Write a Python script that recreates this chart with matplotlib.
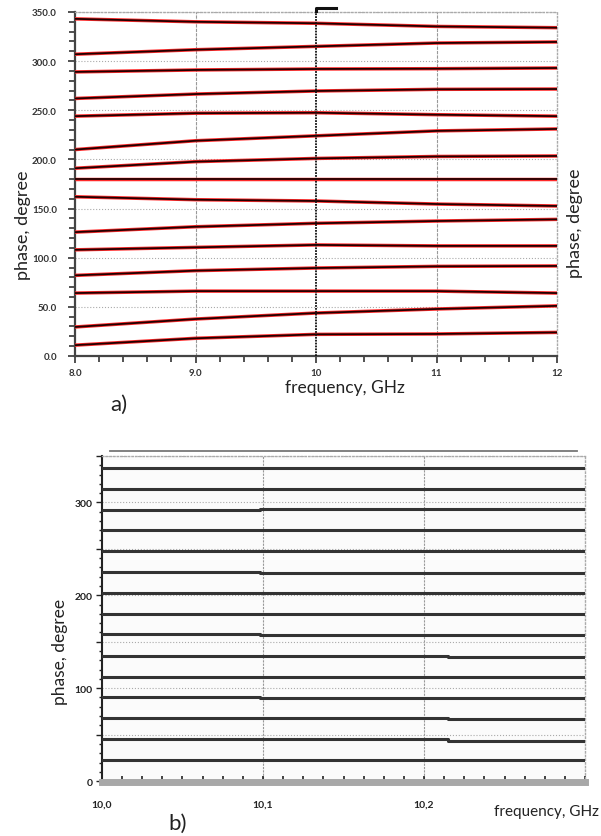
import numpy as np
import matplotlib.pyplot as plt
from matplotlib.ticker import MultipleLocator, FixedLocator, FixedFormatter

plt.rcParams['font.family'] = ['Lato', 'DejaVu Sans']

# ---- panel a) : phase vs frequency, 8..12 GHz
freq_a = [8.0, 9.0, 10.0, 11.0, 12.0]
phase_a = [
    [343, 340, 338.5, 335.3, 334],
    [307, 311.6, 315, 318.4, 319.5],
    [289, 291, 292, 292.3, 293],
    [262, 266.5, 269.6, 271.3, 271.6],
    [244, 247, 247.5, 245.5, 244],
    [210, 219, 224, 229, 231],
    [191, 197.7, 201, 203, 203.5],
    [180, 180, 180, 180, 180],
    [162, 159, 157.7, 154.6, 152.6],
    [126, 131.5, 135, 137.3, 139],
    [108, 110.5, 113, 112, 112],
    [82, 86.8, 89.5, 91.2, 91.6],
    [64, 66, 66, 66, 64],
    [29.5, 37.6, 43.7, 47.8, 51],
    [11, 18, 22, 22.4, 24],
]
yticks_a = [0, 50, 100, 150, 200, 250, 300, 350]
ylabels_a = ['0.0', '50.0', '100.0', '150.0', '200.0', '250.0', '300.0', '350.0']
xticks_a = [8, 9, 10, 11, 12]
xlabels_a = ['8.0', '9.0', '10', '11', '12']

# ---- panel b) : zoomed 10.0..10.3 GHz, step levels per state
freq_b = [10.0, 10.098, 10.215, 10.3]
phase_b = [
    [337.5, 337.5, 337.5],
    [315, 314.5, 314.5],
    [292, 293, 293],
    [270, 270, 270],
    [247.5, 247.5, 247.5],
    [225.5, 224.5, 224.5],
    [202.5, 202.5, 202],
    [180, 180, 180],
    [158, 157, 157],
    [135, 135, 133.5],
    [112.5, 112.5, 112.5],
    [90.5, 89.3, 89.3],
    [67.5, 67.5, 66.5],
    [45, 45, 43.5],
    [22.5, 22.5, 22.5],
]
yticks_b = [0, 50, 100, 150, 200, 250, 300, 350]
ylabels_b = ['0', '', '100', '', '200', '', '300', '']
xticks_b = [10.0, 10.1, 10.2]
xlabels_b = ['10,0', '10,1', '10,2']

fig = plt.figure(figsize=(6.01, 8.37), dpi=100)

# ================= a)
ax = fig.add_axes([0.1248, 0.5735, 0.802, 0.411])
for row in phase_a:
    ax.plot(freq_a, row, color='#ff2a2a', lw=2.5, solid_capstyle='butt', zorder=3)
    ax.plot(freq_a, row, color='#200000', lw=1.3, solid_capstyle='butt', zorder=4)
ax.set_xlim(8, 12)
ax.set_ylim(0, 350)
ax.yaxis.set_major_locator(FixedLocator(yticks_a))
ax.yaxis.set_major_formatter(FixedFormatter(ylabels_a))
ax.yaxis.set_minor_locator(MultipleLocator(10))
ax.xaxis.set_major_locator(FixedLocator(xticks_a))
ax.xaxis.set_major_formatter(FixedFormatter(xlabels_a))
ax.xaxis.set_minor_locator(MultipleLocator(0.2))
ax.tick_params(which='both', direction='out', color='#333', width=1.2,
               labelsize=7, labelcolor='#333')
ax.tick_params(axis='y', which='major', length=5, pad=8)
ax.tick_params(axis='x', which='major', length=5, pad=4)
ax.tick_params(which='minor', length=4)
for lab in ax.get_xticklabels() + ax.get_yticklabels():
    lab.set_fontweight('bold')
for y in yticks_a:
    ax.axhline(y, color='#aaa', lw=0.8, ls=':', zorder=1)
for x in [9, 11]:
    ax.axvline(x, color='#999', lw=0.8, ls=(0, (3, 1)), zorder=1)
ax.axvline(10, color='#111', lw=1.3, ls=(0, (1, 0.6)), zorder=5)
ax.plot([10, 10, 10.17], [351, 354, 354], color='#111', lw=2.2,
        clip_on=False, zorder=6)
ax.spines['left'].set_color('#444')
ax.spines['left'].set_linewidth(1.6)
ax.spines['bottom'].set_color('#444')
ax.spines['bottom'].set_linewidth(1.6)
for s in ['top', 'right']:
    ax.spines[s].set_color('#aaa')
    ax.spines[s].set_linestyle(':')
    ax.spines[s].set_linewidth(1.0)

fig.text(0.038, 0.731, 'phase, degree', rotation=90, ha='center', va='center',
         fontsize=13, color='#222')
fig.text(0.957, 0.733, 'phase, degree', rotation=90, ha='center', va='center',
         fontsize=13, color='#222')
fig.text(0.574, 0.537, 'frequency, GHz', ha='center', va='center',
         fontsize=12.5, color='#222')
fig.text(0.197, 0.516, 'a)', ha='center', va='center', fontsize=16, color='#222')

# ================= b)
bx = fig.add_axes([0.1697, 0.0645, 0.8037, 0.3895])
bx.set_facecolor('#fbfbfb')
for row in phase_b:
    bx.plot(freq_b, row + [row[-1]], drawstyle='steps-post', color='#333',
            lw=2.2, zorder=3)
bx.set_xlim(10.0, 10.3)
bx.set_ylim(-1, 350)
bx.yaxis.set_major_locator(FixedLocator(yticks_b))
bx.yaxis.set_major_formatter(FixedFormatter(ylabels_b))
bx.yaxis.set_minor_locator(MultipleLocator(10))
bx.xaxis.set_major_locator(FixedLocator(xticks_b))
bx.xaxis.set_major_formatter(FixedFormatter(xlabels_b))
bx.xaxis.set_minor_locator(MultipleLocator(0.0125))
bx.tick_params(axis='y', which='both', direction='out', color='#222', width=1.0,
               labelsize=7.5, labelcolor='#222')
bx.tick_params(axis='y', which='major', length=4, pad=3)
bx.tick_params(axis='y', which='minor', length=2.5)
bx.tick_params(axis='x', which='both', direction='in', color='#222', width=1.2,
               length=4, labelsize=7.5, labelcolor='#222', pad=13)
for lab in bx.get_xticklabels() + bx.get_yticklabels():
    lab.set_fontweight('bold')
for y in yticks_b:
    bx.axhline(y, color='#aaa', lw=0.8, ls=':', zorder=1)
for x in xticks_b[1:]:
    bx.axvline(x, color='#999', lw=0.8, ls=(0, (2, 1)), zorder=1)
bx.plot([10.005, 10.295], [355, 355], color='#777', lw=1.3, clip_on=False)
bx.spines['left'].set_color('#222')
bx.spines['left'].set_linewidth(1.5)
bx.spines['bottom'].set_color('#a8a8a8')
bx.spines['bottom'].set_linewidth(5)
for s in ['top', 'right']:
    bx.spines[s].set_color('#aaa')
    bx.spines[s].set_linestyle(':')
    bx.spines[s].set_linewidth(1.0)

fig.text(0.100, 0.221, 'phase, degree', rotation=90, ha='center', va='center',
         fontsize=12.5, color='#222')
fig.text(0.997, 0.030, 'frequency, GHz', ha='right', va='center',
         fontsize=11, color='#222')
fig.text(0.296, 0.016, 'b)', ha='center', va='center', fontsize=16, color='#222')

fig.savefig('out.png', dpi=100)
